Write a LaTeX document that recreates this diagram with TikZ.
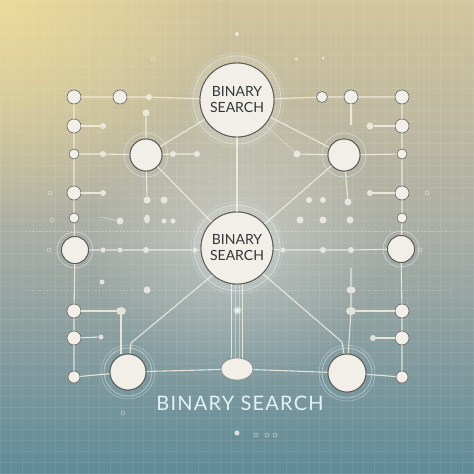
\documentclass[tikz,border=0pt]{standalone}
\usepackage{fontspec}
\setmainfont{Lato}
\usetikzlibrary{fadings,shapes.geometric}
\definecolor{bgtop}{HTML}{D3C59C}
\definecolor{bgmid}{HTML}{A9ADA5}
\definecolor{bgbot}{HTML}{5F8A98}
\definecolor{glowy}{HTML}{F0DE9A}
\definecolor{nodefill}{HTML}{F1EFE8}
\definecolor{linec}{HTML}{F4F1E4}
\definecolor{ringc}{HTML}{DDEBF0}
\definecolor{txtc}{HTML}{333638}
\definecolor{labc}{HTML}{E2F1F3}
\tikzfading[name=glowfade, inner color=transparent!0, outer color=transparent!100]
\tikzset{
  conn/.style={draw=linec, line width=1.1, opacity=0.85},
  faint/.style={draw=linec, line width=0.8, opacity=0.45},
  ndot/.style={circle, fill=nodefill, draw=black!60, line width=0.6, inner sep=0, minimum size=#1},
  sdot/.style={circle, fill=nodefill, fill opacity=0.85, draw=none, inner sep=0, minimum size=#1},
  odot/.style={circle, draw=linec, line width=0.6, opacity=0.6, inner sep=0, minimum size=#1},
  bignode/.style={circle, fill=nodefill, draw=black!65, line width=0.9, inner sep=0,
     minimum size=#1, align=center, text=txtc, font=\fontsize{14}{16}\selectfont},
  ring/.style={draw=ringc, line width=0.8, opacity=0.55}
}
\begin{document}
\begin{tikzpicture}[x=1pt,y=-1pt]
\useasboundingbox (0,0) rectangle (474,474);
% background
\shade[top color=bgtop, bottom color=bgbot, middle color=bgmid] (0,0) rectangle (474,474);
\fill[glowy, path fading=glowfade, opacity=0.85] (0,0) circle (230);
\fill[white, path fading=glowfade, opacity=0.3] (237,240) circle (150);
% grid
\foreach \g in {0,11,...,474} {
  \draw[white, opacity=0.08, line width=0.4] (\g,0) -- (\g,474);
  \draw[white, opacity=0.08, line width=0.4] (0,\g) -- (474,\g);
}
% dotted guide lines
\draw[linec, opacity=0.35, line width=0.7, dash pattern=on 1.5 off 2] (25,231) -- (450,231);
\draw[linec, opacity=0.35, line width=0.7, dash pattern=on 1.5 off 2] (25,290) -- (450,290);

% glow rings
\fill[white, opacity=0.12] (237,100) circle (45);
\draw[ring] (237,100) circle (44); \draw[ring, opacity=0.3] (237,100) circle (47);
\fill[white, opacity=0.12] (237,248) circle (44);
\draw[ring] (237,248) circle (43); \draw[ring, opacity=0.3] (237,248) circle (46);
\draw[ring] (146,155) circle (22);
\draw[ring] (344,155) circle (22);
\draw[ring] (75,250) circle (18);
\draw[ring] (401,249) circle (18);
\draw[ring] (128,372) circle (24); \draw[ring, opacity=0.35] (128,372) circle (27);
\draw[ring] (347,373) circle (25); \draw[ring, opacity=0.35] (347,373) circle (28);

% main nodes
\node[bignode=74] (TOP) at (237,100) {BINARY\\SEARCH};
\node[bignode=72] (MID) at (237,248) {BINARY\\SEARCH};
\node[bignode=32] (LM) at (146,155) {};
\node[bignode=32] (RM) at (344,155) {};
\node[bignode=27] (LR) at (75,250) {};
\node[bignode=27] (RR) at (401,249) {};
\node[bignode=36] (BL) at (128,372) {};
\node[bignode=38] (BR) at (347,373) {};
\node[ellipse, fill=nodefill, draw=black!45, line width=0.6, minimum width=32, minimum height=22, inner sep=0] (ELL) at (237,369) {};

% left column
\node[ndot=14] (L1) at (74,97) {};
\node[ndot=14] (L2) at (74,126) {};
\node[ndot=10] (L3) at (74,154) {};
\node[ndot=14] (L4) at (74,193) {};
\node[ndot=10] (L5) at (74,218) {};
\node[ndot=14] (L6) at (74,311) {};
\node[ndot=14] (L7) at (74,338) {};
\node[ndot=12] (L8) at (74,377) {};
% right column
\node[ndot=14] (R1) at (402,97) {};
\node[ndot=14] (R2) at (402,126) {};
\node[ndot=10] (R3) at (402,154) {};
\node[ndot=14] (R4) at (402,193) {};
\node[ndot=10] (R5) at (402,218) {};
\node[ndot=14] (R6) at (402,311) {};
\node[ndot=14] (R7) at (402,338) {};
\node[ndot=12] (R8) at (402,377) {};
% top row
\node[ndot=14] (T1) at (120,97) {};
\node[sdot=6] (T2) at (149,97) {};
\node[ndot=11] (T3) at (322,97) {};
\node[ndot=14] (T4) at (351,97) {};
\coordinate (T4b) at (351,125);
% small dots
\node[sdot=6] (a) at (103,126) {};
\node[sdot=7] (b) at (146,113) {};
\node[sdot=7] (c) at (370,126) {};
\node[sdot=6] (d) at (103,154) {};
\node[sdot=6] (e) at (173,154) {};
\node[sdot=6] (f) at (197,154) {};
\node[sdot=7] (g) at (297,154) {};
\node[sdot=6] (h) at (103,193) {};
\node[sdot=6] (i) at (370,193) {};
\node[sdot=7] (j1) at (147,200) {};
\node[sdot=7] (j2) at (164,200) {};
\node[sdot=6] (j3) at (309,200) {};
\node[sdot=6] (j4) at (323,200) {};
\node[sdot=7] (j5) at (348,202) {};
\node[sdot=7] (k1) at (120,221) {};
\node[ellipse, fill=nodefill, fill opacity=0.8, inner sep=0, minimum width=6, minimum height=9] (k2) at (147,219) {};
\node[sdot=5] (k3) at (164,221) {};
\node[sdot=5] (k4) at (173,221) {};
\node[sdot=7] (k5) at (300,220) {};
\node[sdot=7] (k6) at (323,220) {};
\node[sdot=7] (k7) at (350,220) {};
\coordinate (k0) at (100,217);
\node[sdot=5] (m1) at (103,250) {};
\node[sdot=5] (m2) at (120,250) {};
\node[sdot=6] (m3) at (146,250) {};
\node[sdot=5] (m4) at (195,250) {};
\node[sdot=5] (m5) at (283,250) {};
\node[sdot=6] (m6) at (323,250) {};
\node[sdot=6] (m7) at (351,250) {};
\node[sdot=5] (n1) at (102,282) {};
\node[sdot=7] (n2) at (147,290) {};
\node[ellipse, fill=nodefill, fill opacity=0.85, inner sep=0, minimum width=9, minimum height=7] (n3) at (351,290) {};
\node[ellipse, fill=nodefill, fill opacity=0.85, inner sep=0, minimum width=10, minimum height=8] (p1) at (121,311) {};
\node[ellipse, fill=nodefill, fill opacity=0.85, inner sep=0, minimum width=10, minimum height=8] (p2) at (351,311) {};
\coordinate (p3) at (368,311);
\coordinate (q0) at (351,268);
\node[sdot=5] (r1) at (101,337) {};
\node[sdot=6] (r2) at (373,338) {};
% hollow tiny circles and stray dots
\node[odot=4] (o1) at (50,193) {};
\node[odot=4] (o2) at (52,220) {};
\node[odot=4] (o3) at (49,250) {};
\node[odot=4] (o4) at (427,193) {};
\node[odot=4] (o5) at (420,250) {};
\node[odot=4] (o6) at (123,413) {};
\node[sdot=5] (s1) at (237,433) {};
\node[odot=4] (s2) at (256,435) {};
\node[odot=4] (s3) at (267,435) {};
\node[odot=4] (s4) at (275,435) {};
\node[sdot=4] (s5) at (237,34) {};
\node[odot=4] (s6) at (153,59) {};
\node[sdot=3] (s7) at (296,59) {};
\node[sdot=3] (s8) at (323,58) {};

% connectors
\draw[conn] (L1) -- (L2) -- (L3) -- (L4) -- (L5) -- (LR) -- (L6) -- (L7) -- (L8);
\draw[conn] (R1) -- (R2) -- (R3) -- (R4) -- (R5) -- (RR) -- (R6) -- (R7) -- (R8);
\draw[conn] (L1) -- (T1) -- (T2) -- (TOP);
\draw[conn] (TOP) -- (T3) -- (T4) -- (R1);
\draw[conn] (T4) -- (T4b);
\draw[conn] (L2) -- (a);
\draw[conn] (c) -- (R2);
\draw[conn] (L3) -- (d) -- (LM) -- (e) -- (f);
\draw[conn] (g) -- (RM) -- (R3);
\draw[conn] (b) -- (LM) -- (j1);
\draw[conn] (RM) -- (j5);
\draw[conn] (L4) -- (h);
\draw[conn] (i) -- (R4);
\draw[faint] (k0) -- (k1);
\draw[conn] (LR) -- (m1) -- (m2) -- (m3) -- (m4) -- (MID) -- (m5) -- (m6) -- (m7) -- (RR);
\draw[conn] (L6) -- (p1) -- (p1 |- BL.north);
\draw[conn] (p2) -- (p3) -- (R6);
\draw[conn] (q0) -- (n3) -- (p2) -- (BR);
\draw[conn] (L7) -- (r1);
\draw[conn] (r2) -- (R7);
\draw[conn] (L8) -- (BL) -- (ELL) -- (BR) -- (R8);
\draw[conn] (TOP) -- (LM);
\draw[conn] (TOP) -- (RM);
\draw[faint] (TOP) -- (g);
\draw[conn] (LM) -- (MID);
\draw[conn] (RM) -- (MID);
\draw[conn] (TOP) -- (MID);
\coordinate (bl1) at (131,343);
\coordinate (br1) at (342,342);
\draw[conn] (MID.-132) -- (bl1) -- (BL);
\draw[conn] (MID.-45) -- (br1) -- (BR);
\draw[conn] (MID.-98) -- (ELL.north -| MID.-98);
\draw[conn] (MID.-82) -- (ELL.north -| MID.-82);
\draw[faint] (MID.-93) -- (ELL.north -| MID.-93);
\draw[faint] (MID.-87) -- (ELL.north -| MID.-87);
\fill[white, path fading=glowfade] (237,310) circle (5);

% redraw nodes on top of lines
\node[bignode=74] at (TOP) {BINARY\\SEARCH};
\node[bignode=72] at (MID) {BINARY\\SEARCH};
\node[bignode=32] at (LM) {};
\node[bignode=32] at (RM) {};
\node[bignode=27] at (LR) {};
\node[bignode=27] at (RR) {};
\node[bignode=36] at (BL) {};
\node[bignode=38] at (BR) {};
\node[ellipse, fill=nodefill, draw=black!45, line width=0.6, minimum width=32, minimum height=22, inner sep=0] at (ELL) {};

% bottom label
\node[text=labc, font=\fontsize{20}{22}\selectfont\addfontfeatures{LetterSpace=6}] (lab) at (240,403) {BINARY SEARCH};
\end{tikzpicture}
\end{document}
